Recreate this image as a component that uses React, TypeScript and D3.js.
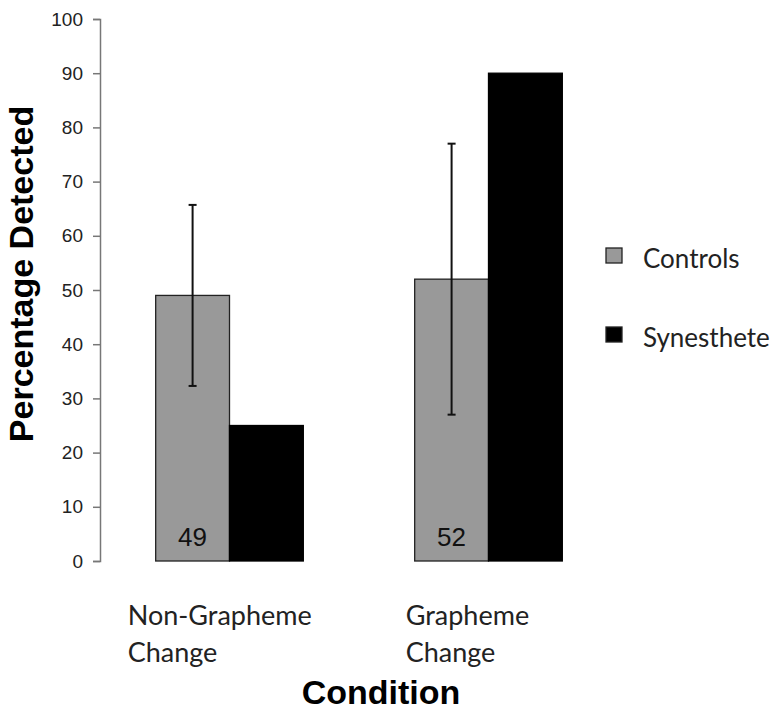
import React, { useEffect, useRef } from "react";
import * as d3 from "d3";

// chart values
const categoryLines = [["Non-Grapheme", "Change"], ["Grapheme", "Change"]];
const categories = ["Non-Grapheme Change", "Grapheme Change"];
const seriesNames = ["Controls", "Synesthete"];
const controls = [49, 52];
const synesthete = [25, 90];
const controlsError = [16.7, 25];
const yTicks = [0, 10, 20, 30, 40, 50, 60, 70, 80, 90, 100];
const labelShift = [28, 9];

const colors: Record<string, string> = { Controls: "#999999", Synesthete: "#000000" };

const width = 775;
const height = 712;

export default function App() {
    const axisRef = useRef<SVGGElement>(null);

    const y = d3.scaleLinear().domain([0, 100]).range([561, 19]);
    const x = d3.scaleBand<string>()
        .domain(categories)
        .range([100, 618])
        .paddingInner(0.43)
        .paddingOuter(0.215);
    const xs = d3.scaleBand<string>().domain(seriesNames).range([0, x.bandwidth()]);

    useEffect(() => {
        const g = d3.select(axisRef.current);
        g.selectAll("*").remove();
        g.call(d3.axisLeft(y).tickValues(yTicks).tickSize(7).tickPadding(10).tickFormat(d3.format("d")) as any);
        g.attr("font-size", 19).attr("font-family", "Liberation Sans, Arial, sans-serif");
        g.select(".domain").attr("stroke", "#777").attr("stroke-width", 1.5);
        g.selectAll(".tick line").attr("stroke", "#777").attr("stroke-width", 1.5);
        g.selectAll(".tick text").attr("fill", "#222");
    }, []);

    const values: Record<string, number[]> = { Controls: controls, Synesthete: synesthete };

    return (
        <svg width={width} height={height} style={{ position: "absolute", left: 0, top: 0, background: "#fff" }}>
            {categories.map((c, i) => (
                <g key={c} transform={`translate(${x(c)},0)`}>
                    {seriesNames.map((s) => (
                        <rect
                            key={s}
                            x={xs(s)}
                            y={y(values[s][i])}
                            width={xs.bandwidth()}
                            height={y(0) - y(values[s][i])}
                            fill={colors[s]}
                            stroke={s === "Controls" ? "#222" : "#000"}
                            strokeWidth={1.3}
                        />
                    ))}
                    {/* error bar on controls */}
                    {(() => {
                        const cx = (xs("Controls") as number) + xs.bandwidth() / 2;
                        const hi = y(controls[i] + controlsError[i]);
                        const lo = y(controls[i] - controlsError[i]);
                        return (
                            <g stroke="#111" strokeWidth={2}>
                                <line x1={cx} x2={cx} y1={hi} y2={lo} />
                                <line x1={cx - 4} x2={cx + 4} y1={hi} y2={hi} />
                                <line x1={cx - 4} x2={cx + 4} y1={lo} y2={lo} />
                            </g>
                        );
                    })()}
                    <text
                        x={(xs("Controls") as number) + xs.bandwidth() / 2}
                        y={y(0) - 15}
                        textAnchor="middle"
                        fontSize={26}
                        fontFamily="Liberation Sans, Arial, sans-serif"
                        fill="#111"
                    >
                        {controls[i]}
                    </text>
                    <text
                        x={-labelShift[i]}
                        y={625}
                        fontSize={27}
                        fontFamily="Lato, sans-serif"
                        fill="#222"
                    >
                        {categoryLines[i].map((l, j) => (
                            <tspan key={j} x={-labelShift[i]} dy={j === 0 ? 0 : 37}>{l}</tspan>
                        ))}
                    </text>
                </g>
            ))}

            <g ref={axisRef} transform="translate(100,0)" />

            <text
                transform="translate(33,274) rotate(-90)"
                textAnchor="middle"
                fontSize={34}
                fontWeight="bold"
                fontFamily="Liberation Sans, Arial, sans-serif"
                fill="#000"
            >
                Percentage Detected
            </text>
            <text
                x={381}
                y={704}
                textAnchor="middle"
                fontSize={34}
                fontWeight="bold"
                fontFamily="Liberation Sans, Arial, sans-serif"
                fill="#000"
            >
                Condition
            </text>

            {seriesNames.map((s, i) => (
                <g key={s} transform={`translate(606,${248 + i * 79})`}>
                    <rect width={16} height={15} fill={colors[s]} stroke="#222" strokeWidth={1.3} />
                    <text x={37} y={20} fontSize={26} fontFamily="Lato, sans-serif" fill="#222">{s}</text>
                </g>
            ))}
        </svg>
    );
}
